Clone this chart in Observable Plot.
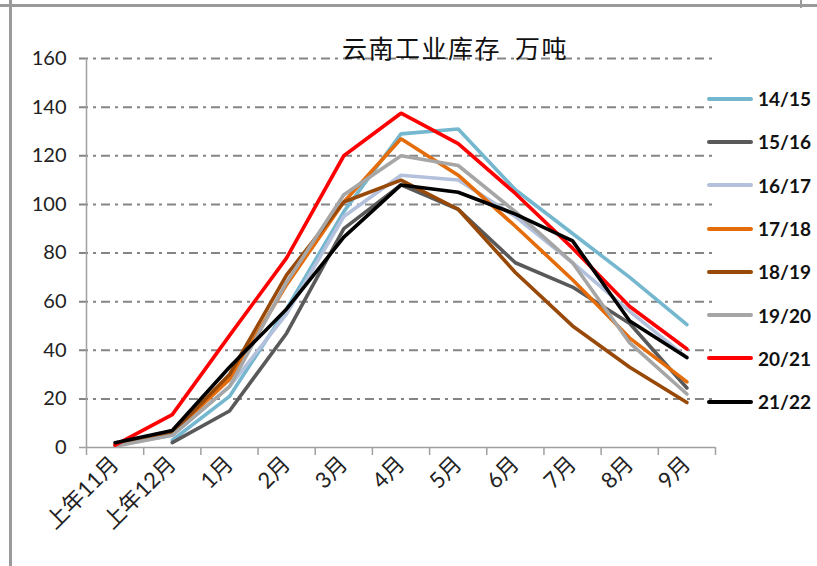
<!DOCTYPE html>
<html>
<head>
<meta charset="utf-8">
<script src="https://cdn.jsdelivr.net/npm/d3@7"></script>
<script src="https://cdn.jsdelivr.net/npm/@observablehq/plot@0.6"></script>
<style>
  html, body { margin: 0; padding: 0; background: #fff; }
  #wrap { position: relative; width: 817px; height: 566px; overflow: hidden; font-family: "Lato", "Noto Sans CJK SC", sans-serif; }
  #frameL { position: absolute; left: 9px; top: 0; width: 3px; height: 566px; background: #9a9a9a; }
  #frameT { position: absolute; left: 0; top: 4px; width: 817px; height: 3px; background: #9a9a9a; }
  #frameR { position: absolute; left: 800px; top: 0; width: 2px; height: 8px; background: #9a9a9a; }
  #title { position: absolute; left: 0; width: 910px; top: 29px; text-align: center; font-family: "Noto Sans CJK SC", sans-serif; font-size: 25px; color: #111; letter-spacing: 1.5px; white-space: pre; z-index: 2; }
  #legend { position: absolute; left: 707px; top: 77px; }
  .item { position: relative; height: 43.3px; display: flex; align-items: center; }
  .swatch { width: 46px; height: 4px; border-radius: 2px; margin-right: 5px; }
  .lab { font-family: "Lato", sans-serif; font-weight: bold; font-size: 19px; color: #111; }
  #chart { position: absolute; left: 0; top: 0; }
</style>
</head>
<body>
<div id="wrap">
  <div id="chart"></div>
  <div id="frameL"></div>
  <div id="frameT"></div>
  <div id="frameR"></div>
  <div id="title"></div>
  <div id="legend"></div>
</div>
<script>
const titleText = "云南工业库存  万吨";
const months = ["上年11月", "上年12月", "1月", "2月", "3月", "4月", "5月", "6月", "7月", "8月", "9月"];
const seriesNames = ["14/15", "15/16", "16/17", "17/18", "18/19", "19/20", "20/21", "21/22"];
const seriesColors = ["#75b7cf", "#595959", "#b3c1dc", "#e46c0a", "#984807", "#a6a6a6", "#ff0000", "#000000"];
const yTicks = [0, 20, 40, 60, 80, 100, 120, 140, 160];

const s1415 = [null, 3, 21, 57, 97, 129, 131, 106, 88, 70, 50.5];
const s1516 = [null, 2, 15, 47, 90, 108, 98, 76, 66, 51, 24.5];
const s1617 = [1, 5, 25, 55, 95, 112, 110, 95, 76, 56, 37];
const s1718 = [1, 6, 28, 67, 101, 127, 112, 91, 69, 45, 27];
const s1819 = [1, 6, 30, 71, 101, 110, 98, 72, 50, 33, 18.5];
const s1920 = [0.5, 5, 25, 68, 104, 120, 116, 97, 76, 43, 22];
const s2021 = [1, 13.5, 46, 78, 120, 137.5, 125, 104.5, 82, 58, 40.5];
const s2122 = [2, 7, 33, 57, 86.5, 108, 105, 96, 85, 52, 37];
const seriesValues = [s1415, s1516, s1617, s1718, s1819, s1920, s2021, s2122];

const data = [];
seriesNames.forEach((name, si) => {
  seriesValues[si].forEach((v, i) => {
    data.push({series: name, idx: i, month: months[i], value: v});
  });
});
const idx = months.map((m, i) => i);
const bounds = months.map((m, i) => i - 0.5).concat([months.length - 0.5]);

document.getElementById("title").textContent = titleText;

const chart = Plot.plot({
  width: 817,
  height: 566,
  marginLeft: 86,
  marginRight: 102,
  marginTop: 58,
  marginBottom: 119,
  style: {fontFamily: "Lato, 'Noto Sans CJK SC', sans-serif", fontSize: "19px", color: "#222", background: "transparent"},
  x: {type: "linear", domain: [-0.5, months.length - 0.5], label: null},
  y: {domain: [0, 160], label: null},
  color: {domain: seriesNames, range: seriesColors},
  marks: [
    Plot.ruleY(yTicks.filter(d => d > 0), {stroke: "#858585", strokeWidth: 2, strokeDasharray: "9,5,3,5", insetLeft: -7}),
    Plot.ruleX([-0.5], {stroke: "#a0a0a0", strokeWidth: 1.5}),
    Plot.ruleY([0], {stroke: "#a0a0a0", strokeWidth: 1.5, insetLeft: -7}),
    Plot.axisY({ticks: yTicks, tickSize: 0, tickPadding: 20, fontSize: 20, fill: "#222", label: null}),
    Plot.axisX({ticks: bounds, tickSize: 8, tickFormat: () => "", stroke: "#a0a0a0", strokeWidth: 1.5, label: null}),
    Plot.axisX({ticks: idx, tickSize: 0, tickPadding: 13, tickRotate: -45, tickFormat: i => months[i], fontSize: 22, fill: "#222", label: null}),
    Plot.line(data, {x: "idx", y: "value", z: "series", stroke: "series", strokeWidth: 3.6, strokeLinejoin: "miter", strokeLinecap: "round"})
  ]
});
document.getElementById("chart").appendChild(chart);

const legend = document.getElementById("legend");
seriesNames.forEach((name, i) => {
  const item = document.createElement("div");
  item.className = "item";
  const sw = document.createElement("div");
  sw.className = "swatch";
  sw.style.background = seriesColors[i];
  const lab = document.createElement("span");
  lab.className = "lab";
  lab.textContent = name;
  item.appendChild(sw);
  item.appendChild(lab);
  legend.appendChild(item);
});
</script>
</body>
</html>
